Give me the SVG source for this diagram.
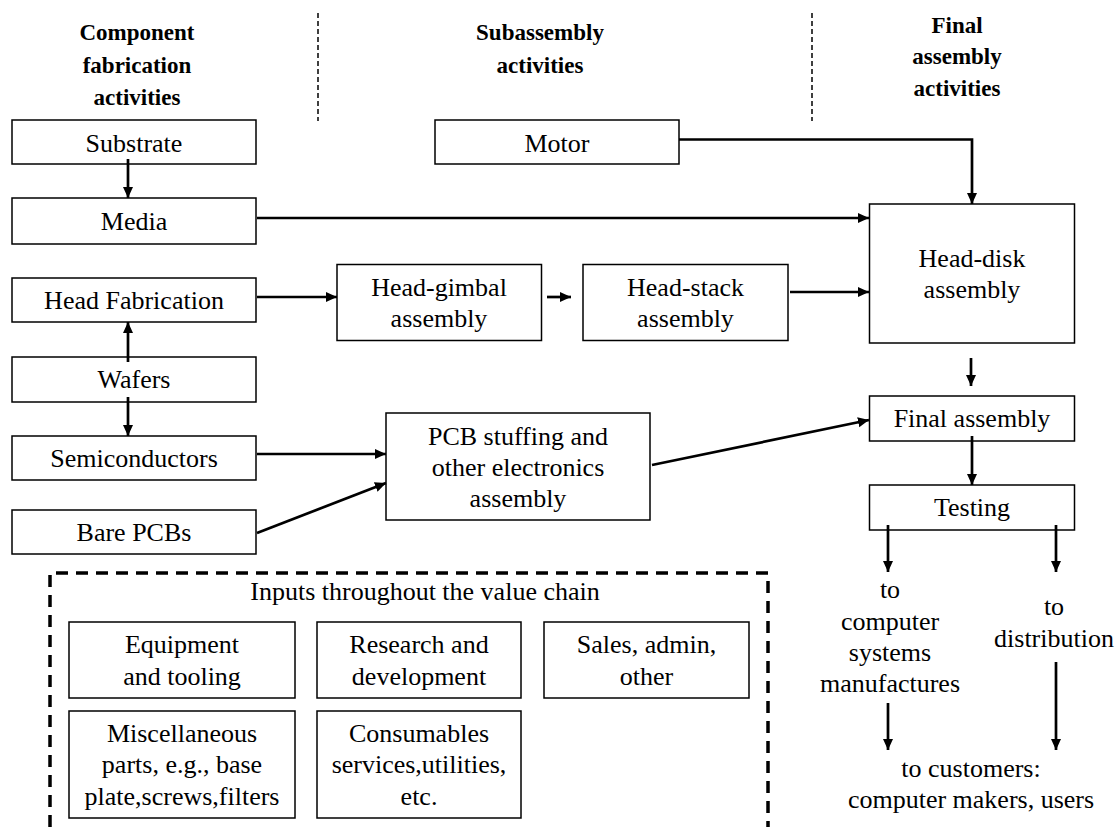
<svg xmlns="http://www.w3.org/2000/svg" width="1119" height="827" viewBox="0 0 1119 827">
<defs>
<marker id="ah" markerUnits="userSpaceOnUse" markerWidth="12" markerHeight="11" refX="11" refY="5" orient="auto"><path d="M0,0 L11,5 L0,10 z" fill="#000"/></marker>
<style>
.box{fill:#fff;stroke:#000;stroke-width:1.5}
.t{font-family:"Liberation Serif","Times New Roman",serif;font-size:26px;text-anchor:middle;fill:#000}
.h{font-family:"Liberation Serif","Times New Roman",serif;font-size:23px;font-weight:bold;text-anchor:middle;fill:#000}
.c{fill:none;stroke:#000;stroke-width:2.7}
.div{stroke:#000;stroke-width:1.5;stroke-dasharray:5 3}
</style>
</defs>
<rect width="1119" height="827" fill="#fff"/>
<g id="headings">
<text class="h" x="137" y="40">Component</text>
<text class="h" x="137" y="73">fabrication</text>
<text class="h" x="137" y="105">activities</text>
<text class="h" x="540" y="40">Subassembly</text>
<text class="h" x="540" y="73">activities</text>
<text class="h" x="957" y="33">Final</text>
<text class="h" x="957" y="64">assembly</text>
<text class="h" x="957" y="96">activities</text>
<line class="div" x1="318" y1="13" x2="318" y2="121"/>
<line class="div" x1="812" y1="13" x2="812" y2="121"/>
</g>
<g id="substrate"><rect class="box" x="12" y="120" width="244" height="44"/><text class="t" x="134" y="152">Substrate</text></g>
<g id="media"><rect class="box" x="12" y="198" width="244" height="46"/><text class="t" x="134" y="230">Media</text></g>
<g id="headfab"><rect class="box" x="12" y="278" width="244" height="44"/><text class="t" x="134" y="309">Head Fabrication</text></g>
<g id="wafers"><rect class="box" x="12" y="357" width="244" height="45"/><text class="t" x="134" y="388">Wafers</text></g>
<g id="semi"><rect class="box" x="12" y="436" width="244" height="44"/><text class="t" x="134" y="467">Semiconductors</text></g>
<g id="barepcb"><rect class="box" x="12" y="510" width="244" height="44"/><text class="t" x="134" y="541">Bare PCBs</text></g>
<g id="motor"><rect class="box" x="435" y="120" width="244" height="44"/><text class="t" x="557" y="152">Motor</text></g>
<g id="headgimbal"><rect class="box" x="337" y="264.5" width="204.5" height="76"/><text class="t" x="439" y="296">Head-gimbal</text><text class="t" x="439" y="327">assembly</text></g>
<g id="headstack"><rect class="box" x="583" y="264.5" width="205" height="76"/><text class="t" x="685.5" y="296">Head-stack</text><text class="t" x="685.5" y="327">assembly</text></g>
<g id="headdisk"><rect class="box" x="869.5" y="204" width="205" height="139"/><text class="t" x="972" y="267">Head-disk</text><text class="t" x="972" y="298">assembly</text></g>
<g id="pcb"><rect class="box" x="386" y="413" width="264" height="107"/><text class="t" x="518" y="445">PCB stuffing and</text><text class="t" x="518" y="476">other electronics</text><text class="t" x="518" y="507">assembly</text></g>
<g id="final"><rect class="box" x="869.5" y="396" width="205" height="45"/><text class="t" x="972" y="427">Final assembly</text></g>
<g id="testing"><rect class="box" x="869.5" y="485" width="205" height="45"/><text class="t" x="972" y="516">Testing</text></g>
<g id="outputs">
<text class="t" x="890" y="598">to</text>
<text class="t" x="890" y="630">computer</text>
<text class="t" x="890" y="661">systems</text>
<text class="t" x="890" y="692">manufactures</text>
<text class="t" x="1054" y="615">to</text>
<text class="t" x="1054" y="647">distribution</text>
<text class="t" x="971" y="777">to customers:</text>
<text class="t" x="971" y="808">computer makers, users</text>
</g>
<g id="inputs">
<path d="M50,827 V573 H768 V827" fill="none" stroke="#000" stroke-width="3.5" stroke-dasharray="12 8"/>
<text class="t" x="425" y="600">Inputs throughout the value chain</text>
<g id="equipment"><rect class="box" x="69" y="622" width="226" height="76"/><text class="t" x="182" y="653">Equipment</text><text class="t" x="182" y="685">and tooling</text></g>
<g id="research"><rect class="box" x="317" y="622" width="204" height="76"/><text class="t" x="419" y="653">Research and</text><text class="t" x="419" y="685">development</text></g>
<g id="sales"><rect class="box" x="544" y="622" width="205" height="76"/><text class="t" x="646.5" y="653">Sales, admin,</text><text class="t" x="646.5" y="685">other</text></g>
<g id="misc"><rect class="box" x="69" y="711" width="226" height="107"/><text class="t" x="182" y="742">Miscellaneous</text><text class="t" x="182" y="773">parts, e.g., base</text><text class="t" x="182" y="805">plate,screws,filters</text></g>
<g id="consumables"><rect class="box" x="317" y="711" width="204" height="107"/><text class="t" x="419" y="742">Consumables</text><text class="t" x="419" y="773">services,utilities,</text><text class="t" x="419" y="805">etc.</text></g>
</g>
<g id="connectors">
<path class="c" d="M128,159 V198" marker-end="url(#ah)"/>
<path class="c" d="M257,218 H869" marker-end="url(#ah)"/>
<path class="c" d="M679,139.5 H972 V204" marker-end="url(#ah)"/>
<path class="c" d="M257,297 H337" marker-end="url(#ah)"/>
<path class="c" d="M547,297 H571" marker-end="url(#ah)"/>
<path class="c" d="M790,292 H869" marker-end="url(#ah)"/>
<path class="c" d="M128,362 V322" marker-end="url(#ah)"/>
<path class="c" d="M128,397 V436" marker-end="url(#ah)"/>
<path class="c" d="M257,454 H386" marker-end="url(#ah)"/>
<path class="c" d="M257,533 L386,483" marker-end="url(#ah)"/>
<path class="c" d="M652,465 L869,420" marker-end="url(#ah)"/>
<path class="c" d="M971,358 V386" marker-end="url(#ah)"/>
<path class="c" d="M972,436 V485" marker-end="url(#ah)"/>
<path class="c" d="M888,525 V572" marker-end="url(#ah)"/>
<path class="c" d="M1056,525 V572" marker-end="url(#ah)"/>
<path class="c" d="M888,703 V750" marker-end="url(#ah)"/>
<path class="c" d="M1056,662 V750" marker-end="url(#ah)"/>
</g>
</svg>
